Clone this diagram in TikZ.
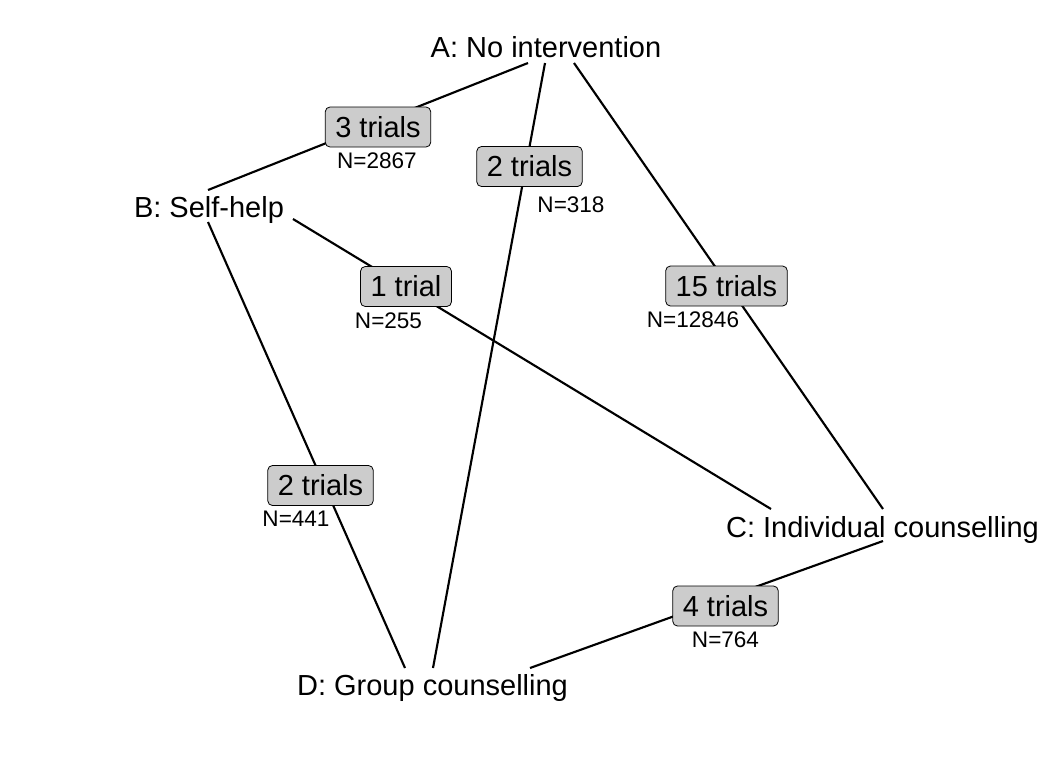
\documentclass[tikz,border=0pt]{standalone}
\usepackage{fontspec}
\setmainfont{Liberation Sans}
\begin{document}
\begin{tikzpicture}[x=0.75pt,y=-0.75pt,
  edge/.style={line width=1.6pt},
  tname/.style={anchor=base, inner sep=0pt, font=\fontsize{21.75}{26}\selectfont},
  tbox/.style={draw=black, line width=0.6pt, fill=black!20, rounded corners=3.5pt, inner xsep=7.5pt, inner ysep=0pt, minimum height=30pt, font=\fontsize{21.75}{26}\selectfont},
  nlab/.style={inner sep=0pt, font=\fontsize{16.9}{20}\selectfont}]
\useasboundingbox (0,0) rectangle (1056,768);

% treatment names
\node[tname] (A) at (546,57) {A: No intervention};
\node[tname] (B) at (209,217) {B: Self-help};
\node[tname] (C) at (882.5,537) {C: Individual counselling};
\node[tname] (D) at (432.5,695) {D: Group counselling};

% connector end points
\coordinate (ab1) at (528,63);  \coordinate (ab2) at (208,190);
\coordinate (ad1) at (545,63);  \coordinate (ad2) at (433,668);
\coordinate (ac1) at (574,63);  \coordinate (ac2) at (883,509);
\coordinate (bc1) at (293,219); \coordinate (bc2) at (771,509);
\coordinate (bd1) at (208,222); \coordinate (bd2) at (405,668);
\coordinate (cd1) at (883,541); \coordinate (cd2) at (530,668);

% connectors
\draw[edge] (ab1) -- (ab2);
\draw[edge] (ad1) -- (ad2);
\draw[edge] (ac1) -- (ac2);
\draw[edge] (bc1) -- (bc2);
\draw[edge] (bd1) -- (bd2);
\draw[edge] (cd1) -- (cd2);

% trial boxes
\node[tbox] (tab) at (378,127) {3 trials};
\node[tbox] (tad) at (529.5,166.5) {2 trials};
\node[tbox] (tbc) at (406,286.5) {1 trial};
\node[tbox] (tac) at (726.5,286) {15 trials};
\node[tbox] (tbd) at (320.5,485.5) {2 trials};
\node[tbox] (tcd) at (725.5,606) {4 trials};

% sample sizes
\node[nlab] (nab) at (377,160.5) {N=2867};
\node[nlab] (nad) at (571,205) {N=318};
\node[nlab] (nbc) at (388.5,320.5) {N=255};
\node[nlab] (nac) at (693,319.5) {N=12846};
\node[nlab] (nbd) at (296,519) {N=441};
\node[nlab] (ncd) at (725.5,639.5) {N=764};
\end{tikzpicture}
\end{document}
